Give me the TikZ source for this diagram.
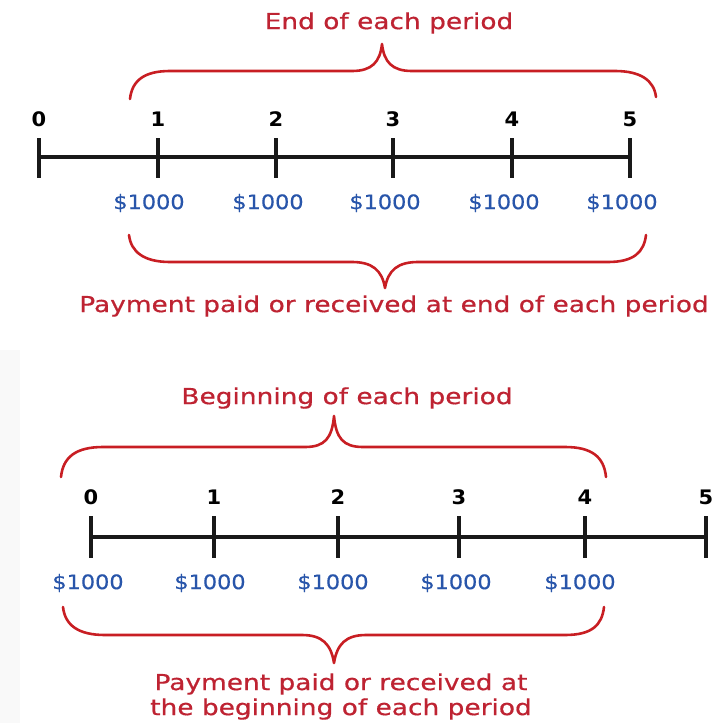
\documentclass[tikz,border=0pt]{standalone}
\usepackage{fontspec}
\setmainfont[FakeStretch=1.2,FakeBold=0.6]{DejaVu Sans}
\newfontfamily\numfont[FakeStretch=1.05]{DejaVu Sans}
\newfontfamily\moneyfont[FakeStretch=1.12,FakeBold=0.5]{DejaVu Sans}
\begin{document}
\begin{tikzpicture}[x=1pt,y=-1pt,
  redtxt/.style={text=textred,font=\fontsize{22}{26}\selectfont,inner sep=0pt},
  numlbl/.style={font=\numfont\bfseries\fontsize{20}{22}\selectfont,inner sep=0pt},
  money/.style={text=moneyblue,font=\moneyfont\fontsize{20}{24}\selectfont,inner sep=0pt},
  axis/.style={line width=3.6pt,black!90},
  tickmark/.style={line width=3.4pt,black!90},
  bracepath/.style={line width=2.6pt,bracered,line cap=round,line join=round}]
\definecolor{textred}{RGB}{190,35,50}
\definecolor{bracered}{RGB}{200,30,35}
\definecolor{moneyblue}{RGB}{40,85,170}
\useasboundingbox (0,0) rectangle (723,723);
\fill[gray!5] (0,350) rectangle (20,723);

% ---------- top section ----------
\node[redtxt] (t1) at (389,23) {End of each period};
\draw[bracepath] (130,99) .. controls (132,80) and (145,71) .. (170,71) -- (352,71)
  .. controls (372,71) and (380,62) .. (382,44)
  .. controls (384,62) and (392,71) .. (412,71) -- (615,71)
  .. controls (640,71) and (654,80) .. (656,97);

\coordinate (a0) at (39,157);
\coordinate (a5) at (630,157);
\draw[axis] (a0) -- (a5);
\foreach \i/\x in {0/39,1/158,2/276,3/393,4/512,5/630}{
  \draw[tickmark] (\x,138) -- (\x,178);
  \node[numlbl] (n1\i) at (\x,119) {\i};
}
\foreach \i/\x in {1/149,2/268,3/385,4/504,5/622}{
  \node[money] (m1\i) at (\x,203) {\$1000};
}
\draw[bracepath] (129,235) .. controls (131,252) and (144,262) .. (170,262) -- (352,262)
  .. controls (372,262) and (382,270) .. (385,288)
  .. controls (388,270) and (398,262) .. (418,262) -- (608,262)
  .. controls (634,262) and (644,252) .. (646,235);
\node[redtxt] (t2) at (394,306) {Payment paid or received at end of each period};

% ---------- bottom section ----------
\node[redtxt] (t3) at (347,398) {Beginning of each period};
\draw[bracepath] (61,477) .. controls (63,457) and (76,447) .. (103,447) -- (305,447)
  .. controls (325,447) and (332,438) .. (334,416)
  .. controls (336,438) and (343,447) .. (363,447) -- (565,447)
  .. controls (592,447) and (604,457) .. (606,477);

\coordinate (b0) at (91,537);
\coordinate (b5) at (706,537);
\draw[axis] (b0) -- (b5);
\foreach \i/\x in {0/91,1/214,2/338,3/459,4/585,5/706}{
  \draw[tickmark] (\x,516) -- (\x,558);
  \node[numlbl] (n2\i) at (\x,497) {\i};
}
\foreach \i/\x in {0/88,1/210,2/333,3/456,4/580}{
  \node[money] (m2\i) at (\x,583) {\$1000};
}
\draw[bracepath] (63,607) .. controls (65,625) and (78,635) .. (105,635) -- (302,635)
  .. controls (322,635) and (331,644) .. (334,663)
  .. controls (337,644) and (346,635) .. (366,635) -- (565,635)
  .. controls (592,635) and (602,625) .. (604,607);
\node[redtxt] (t4) at (341,684) {Payment paid or received at};
\node[redtxt] (t5) at (341,709) {the beginning of each period};
\end{tikzpicture}
\end{document}
